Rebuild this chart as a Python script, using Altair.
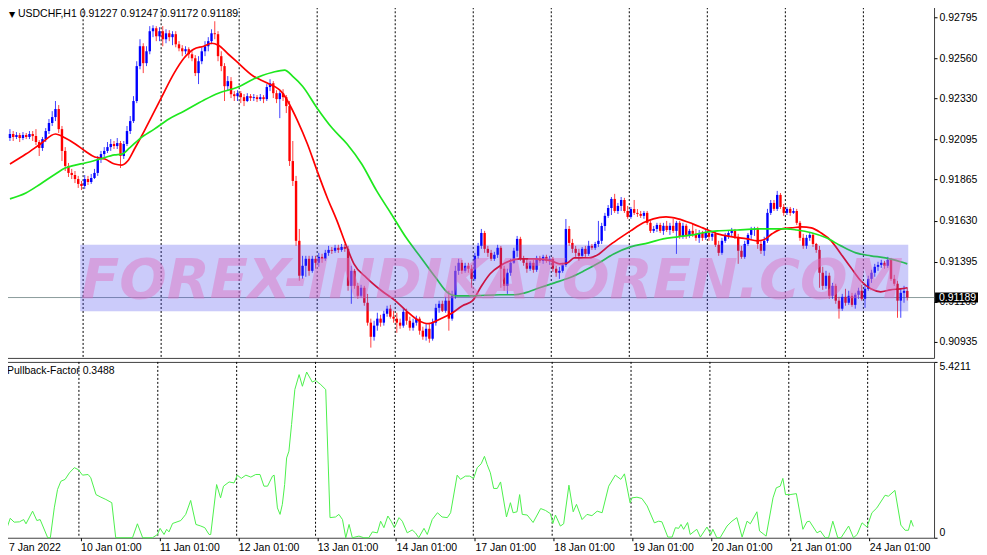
import altair as alt
import pandas as pd

# ---------------- data (prices in pips above 0.90000) ----------------
opens = [
    210.3, 212.6, 210.9, 212.0, 210.3, 212.0, 210.9, 212.6, 211.4, 208.0,
    204.6, 209.7, 214.3, 218.9, 222.3, 226.9, 215.4, 202.9, 194.3, 190.3,
    189.1, 186.8, 184.0, 182.8, 186.8, 185.1, 187.4, 190.3, 198.3, 201.1,
    202.9, 205.1, 206.9, 205.7, 207.4, 200.0, 206.9, 214.3, 220.0, 231.5,
    251.5, 262.9, 253.2, 260.0, 271.5, 273.2, 268.6, 271.5, 266.9, 270.3,
    268.1, 269.8, 264.0, 261.7, 260.0, 261.2, 258.3, 256.0, 247.5, 254.3,
    260.0, 262.9, 265.8, 270.3, 269.8, 257.2, 251.5, 240.0, 242.9, 235.4,
    234.3, 236.0, 233.7, 231.5, 234.3, 233.2, 233.7, 232.6, 233.7, 232.6,
    239.5, 241.7, 236.0, 232.6, 236.0, 233.7, 228.6, 197.1, 185.7, 151.4,
    131.4, 137.1, 141.1, 134.2, 141.1, 138.8, 142.2, 141.1, 144.5, 146.2,
    145.7, 147.4, 146.2, 147.9, 146.8, 125.6, 134.2, 125.6, 119.9, 124.5,
    115.9, 104.5, 96.4, 102.8, 106.8, 104.5, 109.6, 112.5, 107.9, 106.8,
    104.5, 102.8, 110.7, 105.6, 101.6, 104.5, 106.8, 99.9, 96.5, 101.0,
    95.3, 104.5, 113.0, 115.3, 111.3, 117.1, 106.8, 119.9, 134.2, 138.8,
    134.2, 137.1, 135.4, 129.6, 142.8, 148.5, 155.9, 146.8, 144.5, 141.1,
    143.4, 147.4, 135.4, 125.6, 133.1, 138.8, 145.7, 152.5, 141.1, 138.8,
    135.4, 138.8, 134.8, 141.6, 139.9, 142.2, 139.9, 141.1, 135.4, 133.1,
    134.2, 137.6, 158.2, 150.2, 146.8, 144.5, 142.8, 146.8, 143.9, 148.5,
    147.4, 149.6, 151.4, 159.9, 165.7, 170.2, 175.4, 168.5, 171.4, 174.8,
    168.5, 165.1, 169.6, 167.4, 166.8, 165.7, 167.4, 161.7, 157.1, 158.2,
    160.5, 157.1, 160.0, 157.6, 160.0, 157.1, 161.7, 153.7, 160.0, 154.2,
    157.1, 155.4, 153.1, 155.9, 153.1, 155.9, 153.7, 155.4, 149.1, 144.5,
    151.4, 154.2, 155.9, 157.1, 153.7, 145.7, 142.2, 149.6, 154.8, 157.6,
    158.2, 149.6, 145.7, 151.4, 167.4, 173.1, 169.7, 177.7, 170.8, 167.4,
    169.7, 167.4, 168.5, 161.7, 153.1, 148.5, 153.1, 154.8, 149.6, 146.2,
    133.1, 125.6, 131.4, 119.9, 125.6, 117.1, 112.5, 119.3, 115.9, 119.9,
    114.7, 120.5, 122.8, 118.2, 123.9, 129.6, 133.1, 136.5, 137.6, 138.8,
    137.1, 140.5, 129.6, 126.8, 117.1, 121.6, 122.7,
]
highs = [
    215.4, 214.3, 213.7, 213.2, 213.7, 213.2, 214.3, 214.3, 215.4, 209.1,
    210.9, 216.0, 221.2, 225.7, 231.5, 229.2, 217.2, 205.1, 196.0, 192.6,
    191.4, 188.6, 185.7, 189.1, 188.6, 189.7, 192.6, 200.0, 202.9, 205.1,
    208.0, 209.7, 208.6, 210.3, 208.6, 208.6, 217.2, 222.9, 234.3, 254.3,
    266.9, 264.6, 262.9, 274.4, 274.9, 274.4, 273.8, 274.4, 272.6, 272.1,
    271.5, 271.5, 265.8, 263.5, 262.9, 262.3, 260.0, 257.8, 257.2, 262.3,
    265.8, 268.1, 272.6, 277.2, 271.5, 260.0, 253.2, 245.8, 245.2, 237.2,
    237.7, 237.2, 235.5, 236.0, 235.5, 235.5, 234.9, 235.5, 234.9, 241.2,
    244.0, 242.9, 237.7, 237.2, 238.3, 234.9, 231.5, 208.6, 188.6, 158.2,
    142.8, 142.8, 142.8, 142.8, 142.8, 144.5, 144.0, 146.2, 148.5, 147.9,
    149.1, 149.1, 149.6, 149.6, 148.5, 137.1, 135.3, 127.3, 126.2, 125.6,
    121.0, 106.8, 105.6, 110.2, 109.0, 111.3, 114.2, 114.7, 111.3, 110.2,
    106.8, 113.0, 112.5, 107.9, 106.8, 108.5, 107.9, 102.2, 103.9, 104.5,
    106.8, 115.3, 117.1, 117.1, 119.3, 122.8, 122.8, 137.1, 141.1, 140.5,
    138.8, 138.8, 137.6, 144.5, 150.2, 158.2, 157.1, 148.5, 146.2, 145.1,
    149.1, 148.5, 137.1, 135.4, 141.1, 147.4, 154.2, 153.7, 142.8, 141.1,
    139.9, 140.5, 142.8, 142.8, 143.4, 143.4, 142.8, 142.2, 137.1, 136.5,
    138.8, 163.9, 159.9, 152.5, 148.5, 146.8, 147.9, 148.5, 151.4, 149.6,
    150.8, 162.8, 161.7, 167.4, 171.9, 176.5, 178.3, 173.1, 176.5, 176.0,
    171.4, 170.8, 174.8, 169.6, 168.5, 168.5, 168.5, 162.8, 159.9, 161.7,
    161.7, 161.7, 162.8, 161.7, 164.0, 162.8, 162.8, 161.7, 161.1, 158.2,
    161.1, 158.2, 157.6, 157.1, 157.6, 157.1, 157.1, 156.5, 151.4, 153.1,
    155.9, 157.1, 158.8, 158.2, 155.4, 148.5, 151.4, 155.9, 159.4, 159.4,
    159.4, 151.4, 153.7, 169.7, 174.8, 174.8, 180.0, 178.8, 172.5, 170.8,
    170.8, 170.2, 169.7, 162.8, 155.4, 154.8, 155.9, 155.9, 150.2, 148.5,
    136.5, 134.2, 133.1, 127.3, 126.8, 119.3, 121.0, 123.9, 122.8, 121.6,
    121.6, 124.5, 126.2, 126.2, 131.4, 134.8, 138.2, 139.4, 140.5, 139.9,
    142.2, 141.6, 131.9, 128.5, 123.9, 125.6, 124.7,
]
lows = [
    208.6, 208.6, 209.7, 208.0, 209.1, 209.7, 209.7, 208.6, 206.3, 200.0,
    202.9, 208.0, 212.6, 217.2, 220.0, 213.2, 197.1, 191.4, 188.0, 186.8,
    184.5, 181.7, 180.5, 181.1, 183.4, 184.0, 186.8, 188.6, 196.0, 198.9,
    201.7, 202.9, 204.0, 204.0, 193.1, 198.3, 205.7, 212.6, 218.9, 230.3,
    249.7, 247.5, 251.5, 258.3, 268.1, 265.8, 265.8, 262.9, 264.6, 265.8,
    263.5, 262.3, 260.0, 257.2, 258.3, 256.0, 254.3, 245.8, 241.2, 252.6,
    257.2, 260.0, 264.0, 266.9, 254.3, 248.6, 231.5, 237.2, 233.2, 231.5,
    231.5, 230.3, 228.6, 230.9, 231.5, 231.5, 230.9, 231.5, 230.3, 231.5,
    237.2, 233.2, 230.3, 221.7, 231.5, 224.6, 194.3, 182.8, 148.5, 128.5,
    129.6, 130.8, 131.4, 133.1, 135.4, 136.5, 138.8, 139.9, 142.8, 143.9,
    144.5, 144.5, 145.1, 145.1, 122.8, 115.3, 123.9, 118.2, 118.8, 114.2,
    102.8, 90.2, 94.2, 99.9, 102.2, 102.8, 107.9, 106.8, 104.5, 98.7,
    101.0, 101.6, 103.3, 99.9, 99.9, 102.8, 97.6, 94.7, 94.2, 93.0,
    94.2, 102.8, 110.2, 110.6, 110.2, 99.9, 105.6, 118.2, 131.9, 132.5,
    133.1, 133.1, 124.5, 128.5, 141.1, 146.8, 144.5, 142.2, 139.9, 139.9,
    141.6, 124.5, 122.8, 121.0, 131.4, 138.2, 142.2, 139.9, 137.1, 133.1,
    134.2, 133.1, 133.6, 138.8, 138.2, 138.8, 137.6, 133.6, 130.8, 129.6,
    133.1, 136.5, 148.5, 144.5, 142.2, 139.9, 142.2, 142.2, 142.8, 146.2,
    146.2, 147.9, 149.6, 157.1, 164.5, 166.2, 167.4, 166.8, 168.5, 167.4,
    164.0, 164.0, 166.2, 165.1, 164.5, 164.0, 160.5, 155.9, 155.9, 156.5,
    155.9, 154.8, 156.5, 154.8, 155.9, 143.9, 152.5, 152.5, 152.5, 153.1,
    153.7, 151.4, 150.2, 151.4, 151.9, 151.4, 151.4, 147.9, 142.8, 143.4,
    150.2, 152.5, 153.7, 152.5, 138.2, 141.1, 141.1, 148.5, 152.5, 154.2,
    146.8, 143.9, 142.8, 150.2, 166.2, 168.5, 168.5, 169.7, 165.7, 166.2,
    165.7, 166.8, 160.5, 151.4, 146.8, 146.8, 151.4, 147.9, 144.5, 124.5,
    123.3, 123.9, 118.2, 118.2, 115.3, 106.8, 111.3, 114.2, 114.7, 113.6,
    112.5, 118.2, 117.1, 113.0, 122.8, 127.3, 130.8, 134.2, 135.9, 135.4,
    135.9, 128.5, 125.6, 107.3, 107.3, 115.9, 117.2,
]
closes = [
    212.6, 210.9, 212.0, 210.3, 212.0, 210.9, 212.6, 211.4, 208.0, 204.6,
    209.7, 214.3, 218.9, 222.3, 226.9, 215.4, 202.9, 194.3, 190.3, 189.1,
    186.8, 184.0, 182.8, 186.8, 185.1, 187.4, 190.3, 198.3, 201.1, 202.9,
    205.1, 206.9, 205.7, 207.4, 200.0, 206.9, 214.3, 220.0, 231.5, 251.5,
    262.9, 253.2, 260.0, 271.5, 273.2, 268.6, 271.5, 266.9, 270.3, 268.1,
    269.8, 264.0, 261.7, 260.0, 261.2, 258.3, 256.0, 247.5, 254.3, 260.0,
    262.9, 265.8, 270.3, 269.8, 257.2, 251.5, 240.0, 242.9, 235.4, 234.3,
    236.0, 233.7, 231.5, 234.3, 233.2, 233.7, 232.6, 233.7, 232.6, 239.5,
    241.7, 236.0, 232.6, 236.0, 233.7, 228.6, 197.1, 185.7, 151.4, 131.4,
    137.1, 141.1, 134.2, 141.1, 138.8, 142.2, 141.1, 144.5, 146.2, 145.7,
    147.4, 146.2, 147.9, 146.8, 125.6, 134.2, 125.6, 119.9, 124.5, 115.9,
    104.5, 96.4, 102.8, 106.8, 104.5, 109.6, 112.5, 107.9, 106.8, 104.5,
    102.8, 110.7, 105.6, 101.6, 104.5, 106.8, 99.9, 96.5, 101.0, 95.3,
    104.5, 113.0, 115.3, 111.3, 117.1, 106.8, 119.9, 134.2, 138.8, 134.2,
    137.1, 135.4, 129.6, 142.8, 148.5, 155.9, 146.8, 144.5, 141.1, 143.4,
    147.4, 135.4, 125.6, 133.1, 138.8, 145.7, 152.5, 141.1, 138.8, 135.4,
    138.8, 134.8, 141.6, 139.9, 142.2, 139.9, 141.1, 135.4, 133.1, 134.2,
    137.6, 158.2, 150.2, 146.8, 144.5, 142.8, 146.8, 143.9, 148.5, 147.4,
    149.6, 151.4, 159.9, 165.7, 170.2, 175.4, 168.5, 171.4, 174.8, 168.5,
    165.1, 169.6, 167.4, 166.8, 165.7, 167.4, 161.7, 157.1, 158.2, 160.5,
    157.1, 160.0, 157.6, 160.0, 157.1, 161.7, 153.7, 160.0, 154.2, 157.1,
    155.4, 153.1, 155.9, 153.1, 155.9, 153.7, 155.4, 149.1, 144.5, 151.4,
    154.2, 155.9, 157.1, 153.7, 145.7, 142.2, 149.6, 154.8, 157.6, 158.2,
    149.6, 145.7, 151.4, 167.4, 173.1, 169.7, 177.7, 170.8, 167.4, 169.7,
    167.4, 168.5, 161.7, 153.1, 148.5, 153.1, 154.8, 149.6, 146.2, 133.1,
    125.6, 131.4, 119.9, 125.6, 117.1, 112.5, 119.3, 115.9, 119.9, 114.7,
    120.5, 122.8, 118.2, 123.9, 129.6, 133.1, 136.5, 137.6, 138.8, 137.1,
    140.5, 129.6, 126.8, 117.1, 121.6, 122.7, 118.9,
]

red_ma_bar = [0, 4.9, 9.4, 14.0, 17.0, 20.1, 23.1, 26.1, 29.2, 32.2, 34.4, 36.2, 38.3, 41.3,
              46.5, 50.5, 53.5, 56.5, 59.6, 62.0, 64.1, 67.2, 69.6, 74.8, 79.3, 83.9, 85.4,
              88.5, 91.5, 94.5, 97.6, 100.6, 103.7, 105.8, 109.7, 114.3, 118.5, 121.9, 125.8,
              128.6, 132.5, 135.6, 139.2, 142.3, 144.7, 147.7, 150.8, 153.8, 156.8, 161.4,
              166.6, 169.0, 171.5, 173.6, 178.1, 181.2, 184.2, 187.2, 190.9, 194.8, 197.9,
              201.8, 205.5, 210.0, 213.1, 217.6, 222.2, 226.8, 229.8, 231.9, 234.4, 237.4,
              240.4, 243.5, 246.5, 249.5, 252.6, 255.6, 258.7, 261.7, 264.8, 267.8, 270.8,
              273.9, 276.0]
red_ma_val = [195.4, 201.1, 206.9, 212.6, 210.3, 206.9, 202.9, 199.4, 198.3, 195.4, 194.8, 197.1,
              204.0, 214.3, 233.2, 247.5, 256.0, 261.2, 262.9, 264.6, 263.5, 258.3, 254.3, 245.8,
              241.7, 236.0, 231.5, 220.0, 206.9, 191.4, 176.1, 162.8, 147.4, 138.2, 130.2, 122.8,
              117.1, 111.3, 105.6, 103.9, 106.8, 109.6, 114.2, 117.1, 124.5, 132.5, 137.1, 139.9,
              141.1, 141.1, 139.9, 138.2, 138.8, 141.6, 141.6, 143.9, 148.5, 152.5, 157.1, 161.7,
              164.0, 165.1, 164.0, 161.1, 158.8, 155.4, 153.7, 152.5, 151.4, 152.0, 155.4, 158.2,
              158.8, 159.4, 158.8, 155.9, 151.4, 143.9, 135.9, 128.5, 123.9, 122.2, 123.3, 123.9,
              124.5]
green_ma_bar = [0, 4.9, 9.4, 14.0, 17.0, 20.1, 23.1, 27.7, 32.2, 34.4, 36.8, 39.8, 44.4, 48.9,
                53.5, 59.6, 64.1, 70.2, 74.8, 77.8, 80.9, 84.5, 86.9, 90.0, 94.5, 99.1, 103.7,
                108.2, 112.8, 117.3, 121.9, 126.5, 131.0, 134.7, 137.1, 141.6, 150.8, 155.3,
                158.4, 162.9, 167.5, 172.1, 176.6, 181.2, 185.7, 190.9, 196.4, 200.9, 205.5,
                210.0, 213.1, 217.6, 223.7, 229.8, 238.9, 242.0, 246.5, 251.1, 255.6, 260.2,
                264.8, 269.3, 273.9, 276.0]
green_ma_val = [175.4, 178.8, 184.0, 189.7, 193.1, 194.8, 196.0, 198.3, 200.6, 201.1, 204.6, 209.7,
                215.4, 221.2, 225.7, 232.0, 236.0, 239.5, 244.0, 246.3, 248.0, 249.2, 245.8, 240.0,
                227.4, 216.0, 206.9, 195.4, 180.0, 166.8, 153.1, 141.6, 130.2, 121.6, 119.9, 119.9,
                120.5, 120.5, 121.6, 124.5, 127.3, 130.2, 134.2, 138.8, 143.9, 147.9, 150.2, 152.5,
                153.7, 154.8, 156.0, 157.1, 157.6, 158.2, 158.2, 157.6, 156.0, 153.1, 148.5, 144.5,
                142.8, 141.6, 139.4, 138.2]

pf_bar = [0, 0.8, 1.6, 2.8, 4.4, 5.7, 6.4, 8.4, 9.7, 10.7,
          13.0, 13.8, 15.0, 16.0, 17.0, 18.3, 19.6, 21.1, 22.3, 23.6,
          25.3, 26.1, 27.7, 29.2, 30.7, 32.5, 33.7, 35.3, 38.8, 40.3,
          41.9, 44.9, 46.4, 47.2, 47.7, 48.4, 49.2, 49.9, 51.0, 53.5,
          55.0, 56.5, 58.1, 59.6, 60.8, 62.1, 62.6, 64.4, 65.6, 66.5,
          68.2, 69.7, 70.7, 71.9, 73.3, 74.8, 76.3, 77.6, 78.8, 79.9,
          81.4, 81.9, 82.9, 83.7, 84.4, 85.1, 85.7, 86.4, 87.2, 88.2,
          89.5, 90.5, 91.8, 93.5, 94.5, 96.1, 97.6, 98.9, 100.6, 101.6,
          102.7, 103.7, 104.7, 105.7, 107.7, 109.2, 110.7, 111.8, 113.3, 114.3,
          115.3, 116.5, 117.5, 118.5, 119.9, 120.9, 122.4, 123.9, 124.9, 125.9,
          127.5, 128.5, 130.0, 131.6, 133.0, 134.6, 135.6, 137.6, 138.6, 140.1,
          141.4, 142.6, 143.7, 144.9, 145.9, 146.7, 147.7, 148.7, 149.8, 150.8,
          152.6, 153.8, 154.6, 155.8, 156.6, 157.4, 158.9, 160.7, 163.0, 164.5,
          166.0, 166.7, 167.5, 169.0, 170.0, 171.6, 172.9, 173.9, 175.6, 177.1,
          178.6, 180.2, 181.7, 183.7, 185.7, 187.4, 188.5, 190.2, 190.8, 192.3,
          193.8, 195.4, 197.6, 198.9, 199.9, 201.7, 203.0, 204.0, 205.0, 205.7,
          206.5, 207.7, 208.5, 210.5, 211.6, 213.6, 214.8, 215.4, 216.6, 217.6,
          219.7, 221.2, 222.7, 224.3, 225.8, 226.8, 228.8, 229.6, 231.6, 233.7,
          234.7, 235.9, 236.7, 237.5, 238.9, 240.8, 242.8, 244.0, 244.8, 247.1,
          248.1, 249.6, 250.6, 251.9, 253.4, 254.4, 256.7, 258.2, 259.3, 260.8,
          262.3, 263.8, 265.3, 267.8, 268.8, 270.8, 272.6, 273.9, 274.9, 275.7,
          276.4]
pf_val = [0.43, 0.36, 0.60, 0.48, 0.49, 0.56, 0.43, 0.82, 0.53, 0.56,
          0, 0, 0.92, 1.49, 1.74, 1.80, 2.00, 2.16, 2.10, 1.93,
          1.95, 1.85, 1.33, 1.25, 1.18, 1.08, 0, 0, 0, 0.43,
          0, 0, 0.10, 0.29, 0.21, 0.10, 0.26, 0.18, 0.44, 0.53,
          0.72, 1.15, 0.41, 0.36, 0.31, 0.10, 0.10, 1.64, 1.23, 1.59,
          1.72, 1.69, 1.93, 1.83, 1.93, 1.87, 1.95, 1.95, 1.59, 1.59,
          1.90, 1.93, 0.92, 0.72, 1.03, 1.64, 2.46, 2.67, 3.49, 4.57,
          5.03, 4.67, 5.11, 4.80, 4.85, 4.72, 4.57, 0.62, 0.64, 0.72,
          0.56, 0, 0.41, 0, 0.05, 0, 0, 0.18, 0.15, 0.51,
          0.31, 0.67, 0.51, 0.31, 0.62, 0.51, 0.15, 0.24, 0.15, 0,
          0.29, 0.10, 0.56, 0.77, 0.64, 0.62, 0.77, 1.93, 1.80, 1.90,
          1.90, 1.83, 2.16, 2.28, 2.51, 2.26, 2.00, 1.52, 1.52, 1.72,
          0.64, 1.08, 0.77, 0.80, 1.33, 0.72, 0.70, 0.47, 0.90, 0.84,
          0.74, 0.44, 0.70, 0.36, 0.43, 1.62, 0.80, 1.03, 0.56, 0.72,
          0.68, 0.82, 0.77, 1.59, 1.93, 1.80, 1.97, 1.08, 1.23, 1.25,
          1.21, 0.98, 0.46, 0.51, 0.49, 0.02, 0.02, 0.31, 0.29, 0.41,
          0.26, 0.47, 0.10, 0.26, 0.02, 0.33, 0.10, 0.26, 0, 0,
          0.36, 0.51, 0.62, 0.02, 0.51, 0.43, 0.80, 0.21, 0.05, 1.23,
          1.54, 1.59, 1.83, 1.33, 1.33, 1.36, 0.26, 0.49, 0.51, 0.15,
          0.21, 0, 0, 0.51, 0, 0, 0.36, 0, 0.10, 0.46,
          0.33, 0.77, 0.92, 1.31, 1.28, 1.46, 0.39, 0.23, 0.23, 0.54,
          0.3488]

price_ticks = [0.92795, 0.92560, 0.92330, 0.92095, 0.91865, 0.91630, 0.91395, 0.91165, 0.90935]
day_tick_bars = [0, 23, 47, 71, 95, 119, 143, 167, 191, 215, 239, 263]
day_tick_labels = ["7 Jan 2022", "10 Jan 01:00", "11 Jan 01:00", "12 Jan 01:00", "13 Jan 01:00",
                   "14 Jan 01:00", "17 Jan 01:00", "18 Jan 01:00", "19 Jan 01:00", "20 Jan 01:00",
                   "21 Jan 01:00", "24 Jan 01:00"]
day_sep_bars = [22.5, 46.5, 70.5, 94.5, 118.5, 142.5, 166.5, 190.5, 214.5, 238.5, 262.5]

last_price = 0.91189
pf_max = 5.4211
header_text = "USDCHF,H1  0.91227 0.91247 0.91172 0.91189"
pf_title = "Pullback-Factor 0.3488"
watermark = "FOREX-INDIKATOREN.COM"
band_bars = [21.6, 276.3]
band_prices = [0.91491, 0.91110]


def to_price(v):
    return round(0.9 + v / 10000.0, 5)


n = len(closes)
candles = pd.DataFrame({
    "bar": list(range(n)),
    "open": [to_price(v) for v in opens[:n]],
    "high": [to_price(v) for v in highs[:n]],
    "low": [to_price(v) for v in lows[:n]],
    "close": [to_price(v) for v in closes[:n]],
})
candles["dir"] = ["up" if c >= o else "down" for o, c in zip(candles["open"], candles["close"])]

red_df = pd.DataFrame({"bar": red_ma_bar, "p": [to_price(v) for v in red_ma_val]})
green_df = pd.DataFrame({"bar": green_ma_bar, "p": [to_price(v) for v in green_ma_val]})
pf_df = pd.DataFrame({"bar": pf_bar, "v": pf_val})
sep_df = pd.DataFrame({"bar": day_sep_bars})

W, H1, H2 = 932, 355, 176
FONT = "Liberation Sans"
FS = 10.5

xs = alt.Scale(domain=[-0.6, 282.7], nice=False, zero=False)
ys = alt.Scale(domain=[0.90843, 0.92875], nice=False, zero=False)
ps = alt.Scale(domain=[0, pf_max], nice=False, zero=False)

yax = alt.Axis(orient="right", values=price_ticks, format=".5f", tickSize=3, labelPadding=2,
               grid=False, domain=False, title=None, labelOverlap=False, labelFlush=False)
# the first date label is drawn as a separate text so that it is not cut at the page edge
label_expr = " : ".join(f"datum.value == {b} ? '{t}'" for b, t in zip(day_tick_bars[1:], day_tick_labels[1:])) + " : ''"
xax = alt.Axis(values=day_tick_bars, labelExpr=label_expr, labelAlign="left", labelFlush=False,
               labelBaseline="top", tickSize=3, labelPadding=2, grid=False, domain=False,
               title=None, labelOverlap=False)
pax = alt.Axis(orient="right", values=[0, pf_max], labelExpr="datum.value == 0 ? '0' : '5.4211'",
               labelFlush=True, tickSize=3, labelPadding=2, grid=False, domain=False, title=None,
               labelOverlap=False)

color = alt.Color("dir:N", scale=alt.Scale(domain=["up", "down"], range=["#0000ff", "#ff0000"]), legend=None)

vlines_up = alt.Chart(sep_df).mark_rule(color="#000000", strokeDash=[2, 2], strokeWidth=1).encode(
    x=alt.X("bar:Q", scale=xs, axis=None))
price_line = alt.Chart(pd.DataFrame({"p": [last_price]})).mark_rule(color="#8c9c9c", strokeWidth=1).encode(
    y=alt.Y("p:Q", scale=ys, axis=yax))
wicks = alt.Chart(candles).mark_rule(strokeWidth=1, opacity=0.75).encode(
    x=alt.X("bar:Q", scale=xs, axis=None),
    y=alt.Y("low:Q", scale=ys, axis=yax), y2="high:Q", color=color)
bodies = alt.Chart(candles).mark_bar(size=2.4).encode(
    x=alt.X("bar:Q", scale=xs, axis=None),
    y=alt.Y("open:Q", scale=ys, axis=yax), y2="close:Q", color=color)
red_line = alt.Chart(red_df).mark_line(color="#ff0000", strokeWidth=1.7, interpolate="monotone").encode(
    x=alt.X("bar:Q", scale=xs, axis=None), y=alt.Y("p:Q", scale=ys, axis=yax))
green_line = alt.Chart(green_df).mark_line(color="#1ee81e", strokeWidth=1.7, interpolate="monotone").encode(
    x=alt.X("bar:Q", scale=xs, axis=None), y=alt.Y("p:Q", scale=ys, axis=yax))
band = alt.Chart(pd.DataFrame({"x1": [band_bars[0]], "x2": [band_bars[1]],
                               "y1": [band_prices[0]], "y2": [band_prices[1]]})).mark_rect(
    color="#4444ee", opacity=0.28).encode(
    x=alt.X("x1:Q", scale=xs, axis=None), x2="x2:Q",
    y=alt.Y("y1:Q", scale=ys, axis=yax), y2="y2:Q")
wm = alt.Chart(pd.DataFrame({"t": [watermark], "bar": [148.3], "p": [last_price]})).mark_text(
    font="DejaVu Sans", fontSize=56, fontWeight="bold", fontStyle="italic", color="#e070c0",
    opacity=0.45, align="center", baseline="alphabetic").encode(
    x=alt.X("bar:Q", scale=xs, axis=None), y=alt.Y("p:Q", scale=ys, axis=yax), text="t:N")
header_tri = alt.Chart(pd.DataFrame({"t": ["\u25bc"]})).mark_text(
    font="DejaVu Sans", fontSize=8, align="left", baseline="top", color="#000000").encode(
    x=alt.value(6), y=alt.value(8), text="t:N")
header = alt.Chart(pd.DataFrame({"t": [header_text]})).mark_text(
    font=FONT, fontSize=FS, align="left", baseline="top", color="#000000").encode(
    x=alt.value(15), y=alt.value(6), text="t:N")
box = alt.Chart(pd.DataFrame({"a": [last_price + 0.00029], "b": [last_price - 0.00029]})).mark_rect(
    color="#000000").encode(x=alt.value(933), x2=alt.value(976),
                            y=alt.Y("a:Q", scale=ys, axis=yax), y2="b:Q")
box_text = alt.Chart(pd.DataFrame({"p": [last_price], "t": ["0.91189"]})).mark_text(
    font=FONT, fontSize=FS, align="left", baseline="middle", color="#ffffff").encode(
    x=alt.value(937), y=alt.Y("p:Q", scale=ys, axis=yax), text="t:N")

upper = alt.layer(vlines_up, price_line, wicks, bodies, red_line, green_line, band, wm,
                  header_tri, header, box, box_text).properties(width=W, height=H1)

vlines_lo = alt.Chart(sep_df).mark_rule(color="#000000", strokeDash=[2, 2], strokeWidth=1).encode(
    x=alt.X("bar:Q", scale=xs, axis=xax))
pf_line = alt.Chart(pf_df).mark_line(color="#4cf04c", strokeWidth=1).encode(
    x=alt.X("bar:Q", scale=xs, axis=xax), y=alt.Y("v:Q", scale=ps, axis=pax))
pf_label = alt.Chart(pd.DataFrame({"t": [pf_title]})).mark_text(
    font=FONT, fontSize=FS, align="left", baseline="middle", color="#000000").encode(
    x=alt.value(4), y=alt.value(9), text="t:N")
first_date = alt.Chart(pd.DataFrame({"t": [day_tick_labels[0]]})).mark_text(
    font=FONT, fontSize=FS, align="left", baseline="top", color="#000000").encode(
    x=alt.value(6), y=alt.value(H2 + 5), text="t:N")
lower = alt.layer(vlines_lo, pf_line, pf_label, first_date).properties(width=W, height=H2)

chart = alt.vconcat(upper, lower, spacing=2).properties(
    padding={"left": -6, "top": -6, "right": 0, "bottom": 1},
    background="#ffffff",
).configure_view(stroke="#404040", strokeWidth=1).configure_axis(
    labelFont=FONT, labelFontSize=FS, labelColor="#000000", tickColor="#000000")

chart.save("out.html", embed_options={"renderer": "svg", "actions": False})
